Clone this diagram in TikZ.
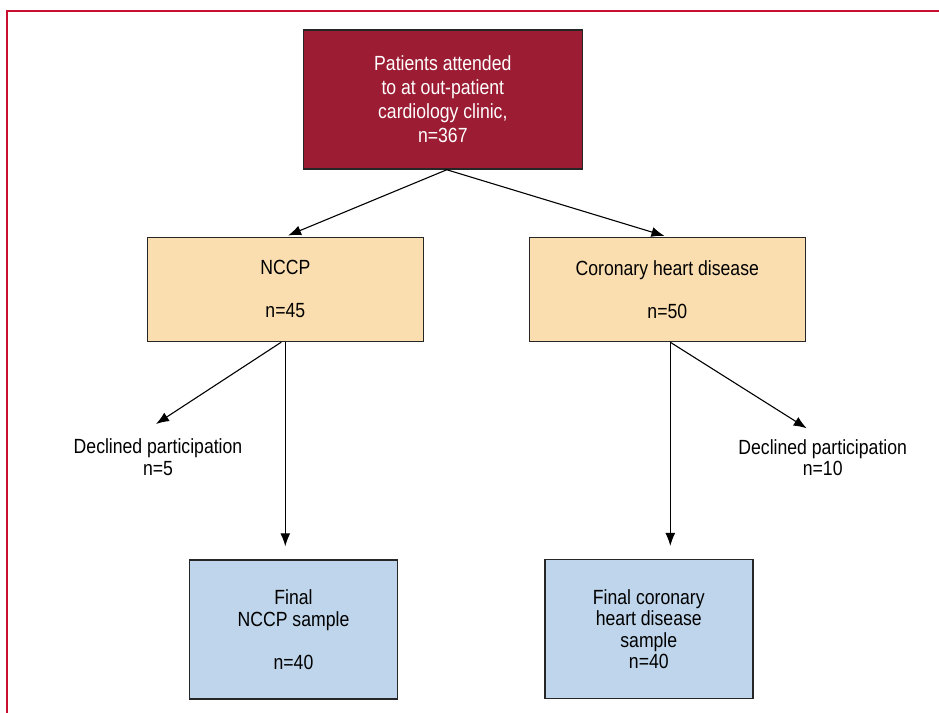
\documentclass[tikz,border=0pt]{standalone}
\usepackage{fontspec}
\setmainfont[FakeStretch=0.86]{Liberation Sans}
\usetikzlibrary{arrows.meta}
\definecolor{framered}{HTML}{C8102E}
\definecolor{darkred}{HTML}{9C1C33}
\definecolor{peach}{HTML}{FBDEB0}
\definecolor{lightblue}{HTML}{BED5EB}
\begin{document}
\begin{tikzpicture}[x=1pt,y=-1pt,
  txt/.style={font=\fontsize{20.5}{21.5}\selectfont},
  box/.style={txt, draw=black!85, line width=1.5pt, align=center, inner sep=0pt},
  topbox/.style={box, fill=darkred, text=white, font=\fontsize{20.5}{24}\selectfont, minimum width=279pt, minimum height=139pt},
  midbox/.style={box, fill=peach, minimum width=276pt, minimum height=104pt},
  finbox/.style={box, fill=lightblue, minimum width=208pt, minimum height=139pt},
  lbl/.style={txt, align=center, inner sep=0pt, anchor=north},
  arr/.style={-{Latex[length=13pt,width=10pt]}, line width=1.1pt},
  frameline/.style={draw=framered, line width=2pt}]
\useasboundingbox (0,0) rectangle (939,712);
\draw[frameline] (7.3,720) -- (7.3,10.7) -- (945,10.7);

\node[topbox] (top) at (442.8,99.5) {Patients attended\\to at out-patient\\cardiology clinic,\\n=367};
\node[midbox] (nccp) at (285.3,289.4) {NCCP\\[21.5pt]n=45};
\node[midbox] (chd) at (667.3,289.5) {Coronary heart disease\\[21.5pt]n=50};
\node[finbox] (finN) at (293.5,629.5) {Final\\NCCP sample\\[21.5pt]n=40};
\node[finbox] (finC) at (648.8,629.2) {Final coronary\\heart disease\\sample\\n=40};
\node[lbl] (dec1) at (158,438.8) {Declined participation\\n=5};
\node[lbl] (dec2) at (822.7,439.4) {Declined participation\\n=10};

\draw[arr, shorten >=3pt] ([xshift=4pt]top.south) -- (nccp.north);
\draw[arr, shorten >=3pt] ([xshift=4pt]top.south) -- (chd.north);
\draw[arr] ([xshift=-4pt]nccp.south) -- ([xshift=-2pt,yshift=14.8pt]dec1.north);
\draw[arr, shorten >=13pt] (nccp.south) -- (nccp.south |- finN.north);
\draw[arr, shorten >=13pt] ([xshift=3pt]chd.south) -- ([xshift=3pt]chd.south |- finC.north);
\draw[arr] ([xshift=3pt]chd.south) -- ([xshift=-16pt,yshift=11.1pt]dec2.north);
\end{tikzpicture}
\end{document}
